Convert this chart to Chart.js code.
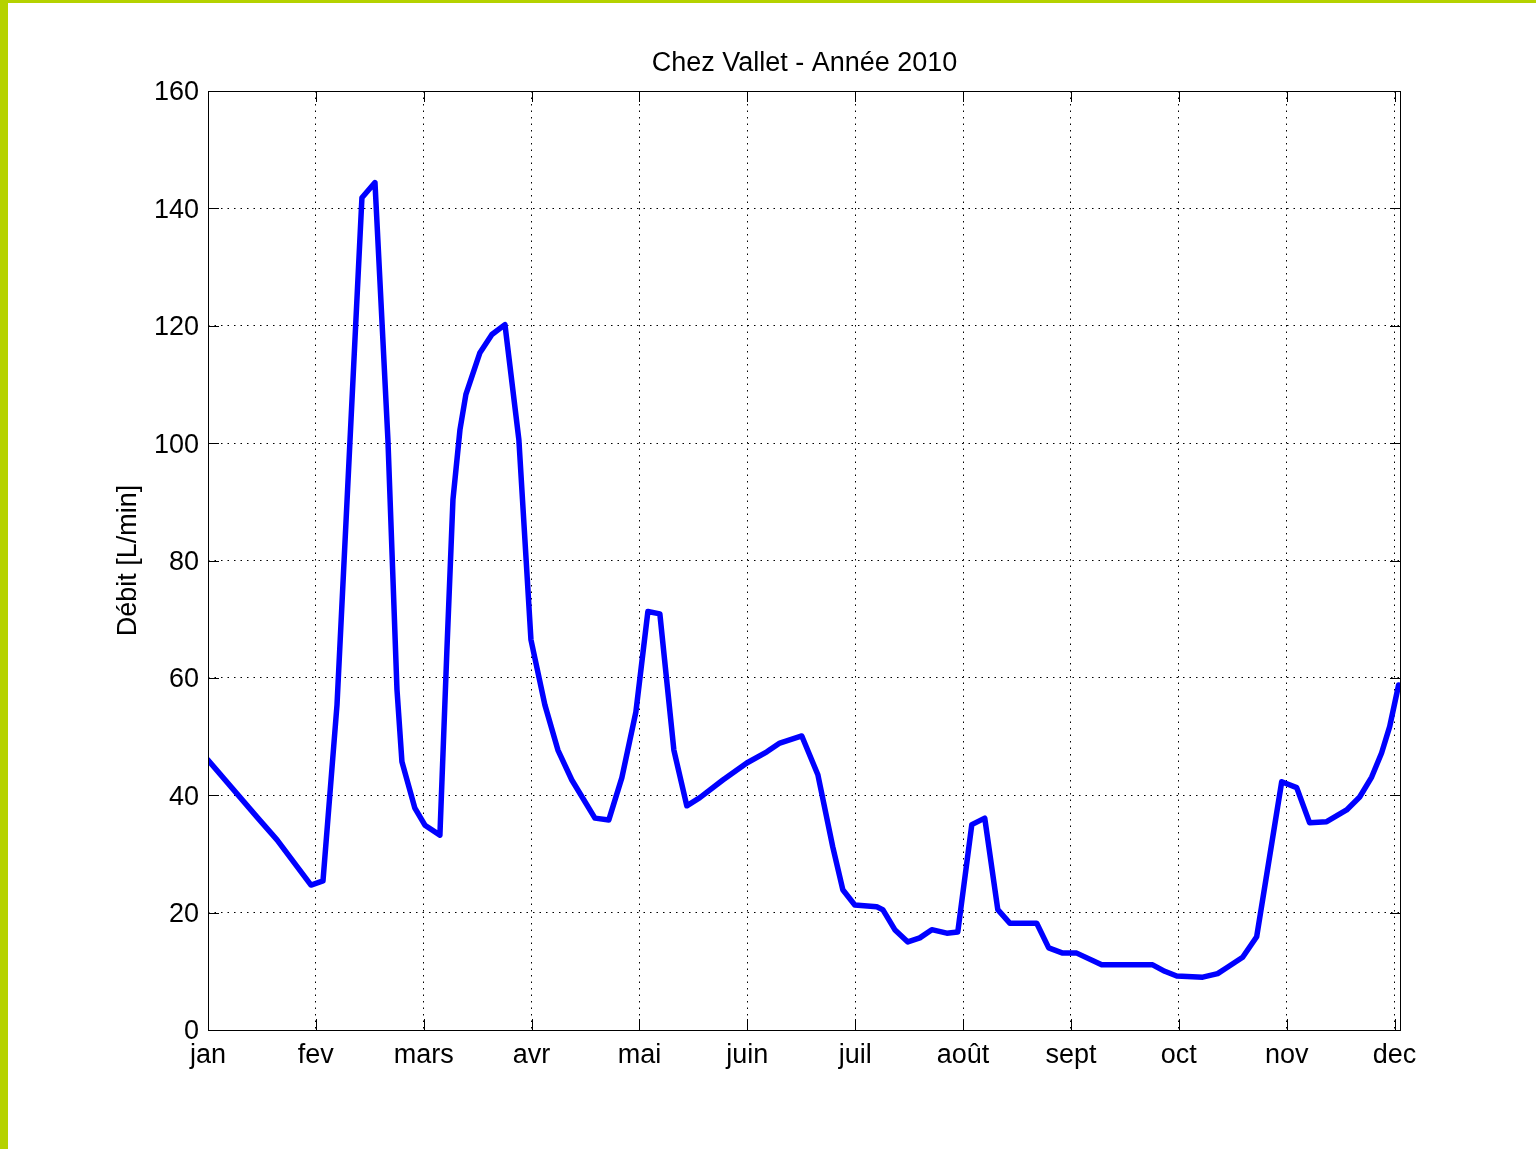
<!DOCTYPE html>
<html lang="fr">
<head>
<meta charset="utf-8">
<title>Chez Vallet - Année 2010</title>
<script src="https://cdn.jsdelivr.net/npm/chart.js@4.4.0/dist/chart.umd.min.js"></script>
<style>
  html, body { margin: 0; padding: 0; background: #fff; }
  body { width: 1536px; height: 1149px; position: relative; overflow: hidden; }
  .band-top  { position: absolute; left: 0; top: 0; width: 1536px; height: 3px; background: #b5d200; }
  .band-left { position: absolute; left: 0; top: 0; width: 8px; height: 1149px; background: #b5d200; }
  #chart { position: absolute; left: 0; top: 0; }
</style>
</head>
<body>
<div class="band-top"></div>
<div class="band-left"></div>
<canvas id="chart" width="1536" height="1149"></canvas>
<script>
// Month labels on the time axis (one tick per month, evenly spaced)
const mois = ['jan', 'fev', 'mars', 'avr', 'mai', 'juin', 'juil', 'août', 'sept', 'oct', 'nov', 'dec'];

// Time of each reading, in months since 1 January 2010
const temps = [
  0, 0.463, 0.640, 0.955, 1.066, 1.196, 1.427, 1.548, 1.668, 1.752,
  1.798, 1.918, 2.011, 2.150, 2.215, 2.271, 2.336, 2.391, 2.521, 2.632,
  2.753, 2.882, 2.994, 3.123, 3.244, 3.373, 3.587, 3.716, 3.837, 3.967,
  4.078, 4.189, 4.319, 4.439, 4.560, 4.773, 4.995, 5.181, 5.301, 5.505,
  5.654, 5.792, 5.885, 5.996, 6.200, 6.256, 6.367, 6.488, 6.599, 6.710,
  6.849, 6.951, 7.081, 7.201, 7.322, 7.433, 7.683, 7.794, 7.924, 8.054,
  8.285, 8.758, 8.870, 8.981, 9.222, 9.360, 9.444, 9.592, 9.722, 9.954,
  10.093, 10.213, 10.371, 10.556, 10.677, 10.788, 10.880, 10.955, 11.038
];

// Flow rate at each reading, L/min
const debit = [
  46.0, 36.1, 32.4, 24.7, 25.4, 55.4, 141.8, 144.4, 100.6, 58.0,
  45.7, 37.8, 34.9, 33.2, 64.8, 90.4, 102.3, 108.3, 115.4, 118.5,
  120.2, 100.6, 66.5, 55.4, 47.7, 42.6, 36.1, 35.8, 43.0, 54.2,
  71.3, 70.9, 47.7, 38.2, 39.6, 42.6, 45.5, 47.4, 48.9, 50.1,
  43.5, 31.2, 23.9, 21.3, 21.0, 20.5, 17.1, 15.0, 15.7, 17.1,
  16.5, 16.7, 35.0, 36.1, 20.5, 18.2, 18.2, 14.0, 13.1, 13.1,
  11.1, 11.1, 10.0, 9.2, 9.0, 9.6, 10.6, 12.4, 15.9, 42.3,
  41.3, 35.3, 35.5, 37.5, 39.7, 43.1, 47.2, 51.7, 58.8
];

const yTicks = [0, 20, 40, 60, 80, 100, 120, 140, 160];

const FONT = { family: '"Liberation Sans", Arial, Helvetica, sans-serif', size: 27, weight: 'normal' };

// Axes box plus inward tick marks on all four sides
const boxAndTicks = {
  id: 'boxAndTicks',
  afterDraw(chart) {
    const { ctx, chartArea: a, scales: { x, y } } = chart;
    const L = 11;
    ctx.save();
    ctx.strokeStyle = '#000';
    ctx.lineWidth = 1;
    ctx.setLineDash([]);
    ctx.beginPath();
    x.ticks.forEach(tk => {
      const px = Math.round(x.getPixelForValue(tk.value)) + 0.5;
      ctx.moveTo(px, a.bottom); ctx.lineTo(px, a.bottom - L);
      ctx.moveTo(px, a.top);    ctx.lineTo(px, a.top + L);
    });
    y.ticks.forEach(tk => {
      const py = Math.round(y.getPixelForValue(tk.value)) + 0.5;
      ctx.moveTo(a.left, py);  ctx.lineTo(a.left + L, py);
      ctx.moveTo(a.right, py); ctx.lineTo(a.right - L, py);
    });
    ctx.stroke();
    ctx.strokeRect(Math.round(a.left) + 0.5, Math.round(a.top) + 0.5,
                   Math.round(a.right - a.left) - 1, Math.round(a.bottom - a.top));
    ctx.restore();
  }
};

new Chart(document.getElementById('chart'), {
  type: 'line',
  data: {
    datasets: [{
      data: temps.map((t, i) => ({ x: t, y: debit[i] })),
      borderColor: '#0000ff',
      borderWidth: 5.5,
      borderJoinStyle: 'round',
      borderCapStyle: 'round',
      pointRadius: 0,
      tension: 0,
      fill: false
    }]
  },
  options: {
    responsive: false,
    animation: false,
    devicePixelRatio: 1,
    layout: { padding: { left: 0, top: 0, right: 135, bottom: 79 } },
    plugins: {
      legend: { display: false },
      tooltip: { enabled: false },
      title: {
        display: true,
        text: 'Chez Vallet - Année 2010',
        color: '#000',
        font: FONT,
        fullSize: false,
        padding: { top: 47, bottom: 11.6 }
      }
    },
    scales: {
      x: {
        type: 'linear',
        min: 0,
        max: 11.06,
        afterBuildTicks: s => { s.ticks = mois.map((_, i) => ({ value: i })); },
        afterFit: s => { s.height = 40; },
        ticks: {
          color: '#000',
          font: FONT,
          padding: 9,
          maxRotation: 0,
          autoSkip: false,
          callback: v => mois[v]
        },
        grid: { color: '#000', lineWidth: 1, drawTicks: false },
        border: { display: false, dash: [1.5, 5] }
      },
      y: {
        min: 0,
        max: 160,
        afterBuildTicks: s => { s.ticks = yTicks.map(v => ({ value: v })); },
        afterFit: s => { s.width = 208; },
        ticks: { color: '#000', font: FONT, padding: 9, labelOffset: 2 },
        grid: { color: '#000', lineWidth: 1, drawTicks: false },
        border: { display: false, dash: [1.5, 5] },
        title: {
          display: true,
          text: 'Débit [L/min]',
          color: '#000',
          font: FONT,
          padding: { top: 112, bottom: 0 }
        }
      }
    }
  },
  plugins: [boxAndTicks]
});
</script>
</body>
</html>
